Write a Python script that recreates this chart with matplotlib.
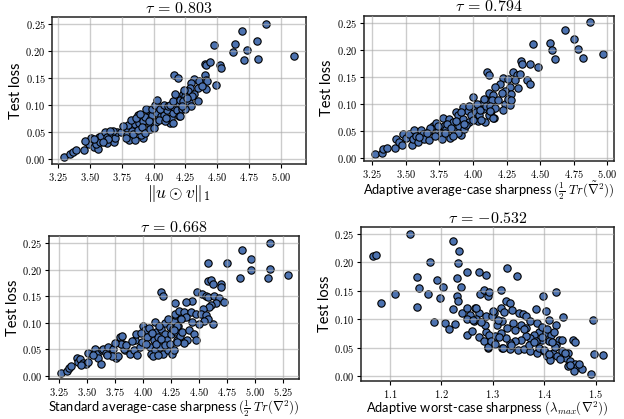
import numpy as np
import matplotlib
matplotlib.use("Agg")
from matplotlib import pyplot as plt
from matplotlib.ticker import MultipleLocator, FuncFormatter

plt.rcParams["mathtext.fontset"] = "cm"
plt.rcParams["font.family"] = ["Lato", "DejaVu Sans"]

# panel 1: ||u . v||_1 vs test loss
p1_x = [3.295, 3.34, 3.37, 3.39, 3.455, 3.48, 3.49, 3.53, 3.56, 3.55, 3.51, 3.57, 3.58, 3.59,
        3.62, 3.635, 3.635, 3.67, 3.685, 3.70, 3.71, 3.74, 3.79, 3.79, 3.81, 3.80, 3.83, 3.85,
        3.855, 3.875, 3.885, 3.90, 3.92, 3.90, 3.92, 3.935, 3.955, 3.97, 3.98, 3.99, 4.02, 4.03,
        4.045, 4.06, 4.07, 4.085, 4.105, 4.125, 4.14, 4.15, 4.16, 4.17, 4.19, 4.18, 4.20, 4.20,
        4.16, 4.19,
        3.76, 3.78, 3.82, 3.84, 3.86, 3.88, 3.89, 3.91, 3.93, 3.94, 3.96, 3.97, 3.99, 4.00,
        4.01, 4.03, 4.04, 4.05, 4.08, 4.09, 4.10, 4.11, 4.13, 4.15, 4.17, 4.21, 4.22, 4.23,
        4.15, 3.68, 3.64, 3.60, 3.46, 3.53, 3.66,
        4.884, 4.697, 4.816, 4.474, 4.637, 4.626, 4.734, 4.710, 4.821, 5.105, 4.40, 4.41, 4.44,
        4.52, 4.53, 4.32, 4.36, 4.40, 4.41, 4.42, 4.297, 4.35, 4.285, 4.27, 4.32, 4.245, 4.23,
        4.275, 4.35, 4.41, 4.487, 4.297, 4.25, 4.22, 4.205, 4.30, 4.38, 4.26, 4.24]
p1_y = [0.003, 0.008, 0.012, 0.017, 0.017, 0.031, 0.027, 0.022, 0.019, 0.028, 0.039, 0.040, 0.031, 0.043,
        0.049, 0.040, 0.029, 0.046, 0.031, 0.039, 0.049, 0.049, 0.058, 0.045, 0.035, 0.062, 0.052, 0.034,
        0.064, 0.081, 0.067, 0.056, 0.039, 0.045, 0.070, 0.077, 0.090, 0.063, 0.075, 0.082, 0.068, 0.085,
        0.097, 0.079, 0.088, 0.082, 0.091, 0.066, 0.075, 0.085, 0.097, 0.106, 0.115, 0.091, 0.103, 0.079,
        0.156, 0.151,
        0.061, 0.038, 0.072, 0.047, 0.076, 0.053, 0.083, 0.060, 0.048, 0.092, 0.071, 0.055, 0.093, 0.058,
        0.100, 0.110, 0.072, 0.092, 0.100, 0.070, 0.076, 0.098, 0.100, 0.107, 0.121, 0.110, 0.093, 0.120,
        0.067, 0.052, 0.036, 0.032, 0.033, 0.037, 0.051,
        0.251, 0.238, 0.220, 0.212, 0.213, 0.199, 0.202, 0.184, 0.185, 0.192, 0.177, 0.175, 0.180,
        0.175, 0.169, 0.149, 0.144, 0.155, 0.147, 0.144, 0.141, 0.132, 0.132, 0.126, 0.120, 0.117, 0.107,
        0.105, 0.107, 0.130, 0.138, 0.098, 0.093, 0.098, 0.080, 0.117, 0.136, 0.113, 0.128]

# panel 2: adaptive average-case sharpness
p2_x = [3.272, 3.324, 3.334, 3.359, 3.416, 3.428, 3.448, 3.473, 3.478, 3.498, 3.527, 3.547, 3.552,
        3.564, 3.577, 3.589, 3.614, 3.626, 3.639, 3.671, 3.676,
        3.705, 3.725, 3.738, 3.762, 3.770, 3.775, 3.787, 3.800, 3.819, 3.829, 3.849, 3.861, 3.874,
        3.886, 3.899, 3.911, 3.923, 3.928, 3.936, 3.960, 3.968, 3.985, 3.998, 4.010, 4.022, 4.035,
        4.047, 4.059, 4.072, 4.092, 4.109, 4.121, 4.134, 4.134, 4.141, 4.101, 4.121,
        3.74, 3.79, 3.81, 3.84, 3.87, 3.89, 3.91, 3.95, 3.97, 4.00, 4.03, 4.05, 4.08, 4.10, 4.12,
        3.68, 3.60, 3.66, 3.72, 3.85, 3.93, 4.16, 4.06,
        4.868, 4.685, 4.575, 4.755, 4.45, 4.587, 4.783, 4.607, 4.822, 4.965, 4.358, 4.363, 4.423,
        4.483, 4.30, 4.325, 4.35, 4.225, 4.263, 4.313, 4.40, 4.425, 4.20, 4.275, 4.333, 4.238,
        4.163, 4.15, 4.213, 4.283, 4.138, 4.188, 4.238, 4.275, 4.125, 4.163, 4.225, 4.15, 4.125,
        4.263, 4.283]
p2_y = [0.006, 0.009, 0.015, 0.018, 0.018, 0.034, 0.028, 0.023, 0.043, 0.037, 0.043, 0.023, 0.034,
        0.051, 0.040, 0.029, 0.051, 0.043, 0.034, 0.033, 0.049,
        0.059, 0.064, 0.049, 0.043, 0.035, 0.074, 0.059, 0.053, 0.071, 0.037, 0.065, 0.049, 0.084,
        0.078, 0.059, 0.041, 0.093, 0.071, 0.053, 0.087, 0.065, 0.078, 0.112, 0.093, 0.084, 0.068,
        0.078, 0.099, 0.090, 0.066, 0.103, 0.078, 0.087, 0.115, 0.096, 0.158, 0.153,
        0.058, 0.045, 0.062, 0.055, 0.068, 0.046, 0.085, 0.060, 0.095, 0.070, 0.100, 0.088, 0.108,
        0.095, 0.120, 0.054, 0.038, 0.045, 0.040, 0.040, 0.062, 0.074, 0.069,
        0.251, 0.236, 0.212, 0.219, 0.211, 0.199, 0.201, 0.183, 0.184, 0.191, 0.178, 0.174, 0.174,
        0.168, 0.158, 0.153, 0.154, 0.148, 0.145, 0.143, 0.144, 0.137, 0.137, 0.131, 0.129, 0.124,
        0.131, 0.115, 0.120, 0.118, 0.106, 0.106, 0.099, 0.098, 0.096, 0.091, 0.089, 0.073, 0.087,
        0.109, 0.106]

# panel 3: standard average-case sharpness
p3_x = [3.265, 3.318, 3.339, 3.357, 3.407, 3.422, 3.437, 3.467, 3.487, 3.505, 3.511, 3.446,
        3.570, 3.585, 3.600, 3.624, 3.630, 3.645, 3.674, 3.689, 3.734, 3.763, 3.778, 3.719,
        3.793, 3.814, 3.823, 3.838, 3.832, 3.882, 3.921, 3.932, 3.941, 3.971, 3.992, 4.001, 4.016,
        4.039, 4.060, 4.075, 4.099, 4.105, 4.111, 4.119, 4.134, 4.149, 4.164, 4.179, 4.194, 4.200,
        4.217, 4.223, 4.238, 4.253, 4.259, 4.277, 4.283, 4.297, 4.306, 4.158, 4.179, 4.283, 4.289,
        3.80, 3.85, 3.90, 3.95, 3.98, 4.03, 4.05, 4.08, 4.12, 4.16, 4.20, 4.24, 4.27, 4.31, 4.33,
        4.35, 4.22, 4.14, 4.09, 4.13, 3.75, 3.68, 3.55,
        5.131, 4.887, 4.961, 4.583, 4.753, 4.967, 5.134, 4.863, 5.116, 5.289, 4.583, 4.604, 4.625,
        4.693, 4.696, 4.485, 4.530, 4.560, 4.583, 4.634, 4.679, 4.723, 4.649, 4.604, 4.589, 4.536,
        4.440, 4.387, 4.321, 4.366, 4.426, 4.470, 4.515, 4.560, 4.625, 4.583, 4.545, 4.500, 4.440,
        4.381, 4.336, 4.307, 4.277, 4.351, 4.411, 4.455, 4.476, 4.396, 4.366, 4.307, 4.277]
p3_y = [0.006, 0.009, 0.014, 0.018, 0.034, 0.026, 0.031, 0.024, 0.023, 0.026, 0.043, 0.020,
        0.051, 0.042, 0.033, 0.022, 0.048, 0.051, 0.043, 0.054, 0.051, 0.033, 0.037, 0.037,
        0.073, 0.076, 0.061, 0.048, 0.051, 0.042, 0.048, 0.067, 0.079, 0.054, 0.064, 0.095, 0.086,
        0.073, 0.054, 0.042, 0.068, 0.101, 0.048, 0.083, 0.073, 0.054, 0.089, 0.042, 0.079, 0.099,
        0.067, 0.048, 0.092, 0.079, 0.042, 0.103, 0.114, 0.083, 0.067, 0.158, 0.151, 0.137, 0.117,
        0.060, 0.058, 0.065, 0.040, 0.080, 0.060, 0.090, 0.080, 0.060, 0.070, 0.058, 0.060, 0.088,
        0.095, 0.075, 0.110, 0.108, 0.095, 0.038, 0.040, 0.062, 0.040, 0.040,
        0.251, 0.237, 0.220, 0.212, 0.212, 0.199, 0.201, 0.184, 0.184, 0.191, 0.179, 0.180, 0.173,
        0.174, 0.168, 0.158, 0.154, 0.151, 0.149, 0.151, 0.147, 0.139, 0.137, 0.133, 0.129, 0.126,
        0.142, 0.139, 0.123, 0.120, 0.120, 0.117, 0.117, 0.114, 0.098, 0.108, 0.104, 0.098, 0.101,
        0.111, 0.108, 0.095, 0.086, 0.083, 0.086, 0.079, 0.068, 0.067, 0.062, 0.064, 0.048]

# panel 4: adaptive worst-case sharpness
p4_x = [1.139, 1.067, 1.074, 1.178, 1.223, 1.234, 1.233, 1.152, 1.249, 1.273, 1.286, 1.192, 1.204,
        1.231, 1.238, 1.156, 1.110, 1.083, 1.174, 1.197, 1.152, 1.231, 1.233, 1.223, 1.275, 1.283,
        1.290, 1.293, 1.240, 1.249, 1.256, 1.266, 1.273, 1.286, 1.249, 1.264, 1.267, 1.186, 1.208,
        1.227, 1.215, 1.249, 1.260, 1.273, 1.283, 1.286, 1.290, 1.284,
        1.328, 1.347, 1.315, 1.422, 1.398, 1.325, 1.333, 1.315, 1.321, 1.302, 1.338, 1.351, 1.359,
        1.365, 1.383, 1.403, 1.409, 1.437, 1.494,
        1.308, 1.318, 1.328, 1.340, 1.344, 1.354, 1.364, 1.373, 1.386, 1.390, 1.380, 1.396, 1.403,
        1.412, 1.422, 1.419, 1.429, 1.435, 1.455, 1.459, 1.422, 1.409, 1.396, 1.383, 1.373, 1.364,
        1.354, 1.344, 1.334, 1.325, 1.315, 1.305, 1.292, 1.318, 1.334, 1.349, 1.360, 1.373, 1.386,
        1.399, 1.406, 1.416, 1.425, 1.435, 1.445, 1.442, 1.450, 1.445, 1.459, 1.464, 1.474, 1.468,
        1.490, 1.497, 1.513, 1.458, 1.411,
        1.290, 1.296, 1.305, 1.312, 1.320, 1.335, 1.298, 1.310, 1.278, 1.267, 1.262, 1.300, 1.360,
        1.370, 1.380, 1.390, 1.400, 1.410, 1.420, 1.430, 1.395, 1.405, 1.415, 1.440, 1.450]
p4_y = [0.250, 0.211, 0.212, 0.201, 0.237, 0.219, 0.198, 0.174, 0.183, 0.183, 0.178, 0.169, 0.157,
        0.173, 0.156, 0.154, 0.144, 0.129, 0.144, 0.137, 0.122, 0.140, 0.131, 0.118, 0.144, 0.151,
        0.140, 0.148, 0.110, 0.119, 0.108, 0.120, 0.110, 0.105, 0.101, 0.096, 0.101, 0.095, 0.093,
        0.091, 0.083, 0.073, 0.080, 0.069, 0.062, 0.078, 0.049, 0.090,
        0.190, 0.176, 0.151, 0.148, 0.140, 0.132, 0.128, 0.119, 0.112, 0.110, 0.116, 0.110, 0.109,
        0.106, 0.118, 0.115, 0.099, 0.103, 0.098,
        0.090, 0.096, 0.085, 0.093, 0.081, 0.090, 0.084, 0.096, 0.093, 0.078, 0.073, 0.087, 0.076,
        0.073, 0.090, 0.078, 0.064, 0.064, 0.064, 0.060, 0.055, 0.061, 0.064, 0.061, 0.067, 0.070,
        0.064, 0.061, 0.058, 0.067, 0.076, 0.070, 0.073, 0.049, 0.047, 0.045, 0.048, 0.044, 0.041,
        0.044, 0.035, 0.041, 0.035, 0.044, 0.041, 0.032, 0.026, 0.017, 0.022, 0.016, 0.013, 0.022,
        0.004, 0.039, 0.037, 0.009, 0.029,
        0.051, 0.062, 0.057, 0.069, 0.050, 0.054, 0.105, 0.098, 0.095, 0.120, 0.098, 0.115, 0.083,
        0.055, 0.060, 0.050, 0.045, 0.038, 0.052, 0.030, 0.068, 0.083, 0.060, 0.040, 0.020]

titles = [r"$\tau\,=\,0.803$", r"$\tau\,=\,0.794$", r"$\tau\,=\,0.668$", r"$\tau\,=\,{-}0.532$"]
xlabels = [r"$\|u \odot v\|_1$",
           r"Adaptive average-case sharpness $(\frac{1}{2}\ Tr(\tilde{\nabla}^2))$",
           r"Standard average-case sharpness $(\frac{1}{2}\ Tr(\nabla^2))$",
           r"Adaptive worst-case sharpness $(\lambda_{max}(\nabla^2))$"]

# axes rectangles in figure fraction (left, bottom, width, height)
rects = [(0.084, 0.609, 0.406, 0.350),
         (0.583, 0.616, 0.401, 0.347),
         (0.079, 0.095, 0.400, 0.341),
         (0.579, 0.091, 0.405, 0.368)]


def draw_panel(ax, xs, ys, title, xlabel, xstep, ndec, xlabel_size):
    ax.scatter(xs, ys, s=28, color="#4c72b0", edgecolor="black", linewidth=0.8, zorder=2)
    ax.set_title(title, fontsize=11.5, pad=3)
    ax.set_xlabel(xlabel, fontsize=xlabel_size, labelpad=0)
    ax.set_ylabel("Test loss", fontsize=10.5, labelpad=2)
    ax.xaxis.set_major_locator(MultipleLocator(xstep))
    ax.yaxis.set_major_locator(MultipleLocator(0.05))
    ax.xaxis.set_major_formatter(FuncFormatter(lambda v, p: f"${v:.{ndec}f}$"))
    ax.yaxis.set_major_formatter(FuncFormatter(lambda v, p: f"${v:.2f}$"))
    ax.tick_params(labelsize=7.5, length=3, width=0.8, pad=2)
    ax.grid(True, color="#aaaaaa", alpha=0.6, linewidth=1.0, zorder=3)
    ax.set_axisbelow(False)
    for sp in ax.spines.values():
        sp.set_linewidth(1.1)
        sp.set_color("#222222")


fig = plt.figure(figsize=(6.24, 4.19), dpi=100)
data = [(p1_x, p1_y, 0.25, 2, 12.5), (p2_x, p2_y, 0.25, 2, 9.3),
        (p3_x, p3_y, 0.25, 2, 9.3), (p4_x, p4_y, 0.1, 1, 9.3)]
for i, (xs, ys, step, nd, fs) in enumerate(data):
    ax = fig.add_axes(rects[i])
    draw_panel(ax, xs, ys, titles[i], xlabels[i], step, nd, fs)

fig.savefig("out.png", dpi=100)
